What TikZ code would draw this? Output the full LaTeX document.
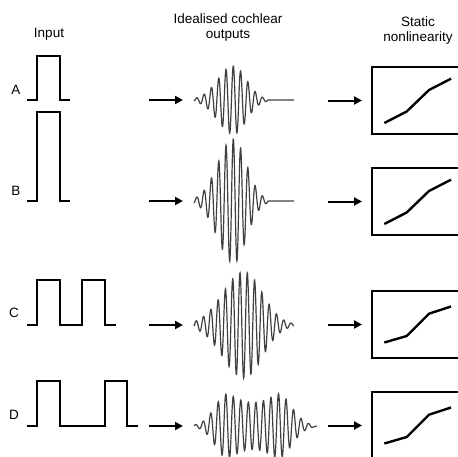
\documentclass[tikz,border=0pt]{standalone}
\usepackage{fontspec}
\setmainfont{Liberation Sans}
\usetikzlibrary{arrows.meta}
\tikzset{
  x=1pt, y=-1pt,
  lbl/.style={font=\fontsize{13.5}{15}\selectfont, inner sep=0pt},
  pulse/.style={line width=2pt},
  wave/.style={line width=1.2pt, draw=black!75},
  arr/.style={line width=2pt, -{Triangle[length=8pt,width=8pt]}},
  nlbox/.style={draw, line width=2pt, minimum width=100pt, minimum height=67pt,
                inner sep=0pt, outer sep=0pt, anchor=north west},
  nlcurve/.style={line width=2.4pt},
  declare function={
    envA(\x)=exp(-((\x-233.3)/((\x<233.3)?22:18.5))^2);
    envC(\x)=exp(-((\x-244)/((\x<244)?30:26))^2);
    envD(\x)=(\x<228) ? (32.5*exp(-((\x-228)/18)^2)) :
             ((\x<277.5) ? (32.5*(1-0.28*sin(3.6364*(\x-228)))) :
             (32.5*exp(-((\x-277.5)/19.5)^2)));
  }
}
\begin{document}
\begin{tikzpicture}
\useasboundingbox (0,0) rectangle (458,456);
\clip (0,0) rectangle (458,456);

% column titles
\node[lbl, anchor=base] (tin) at (49,37.5) {Input};
\node[lbl, anchor=base, align=center] (tout) at (228,38) {Idealised cochlear\\outputs};
\node[lbl, anchor=base, align=center] (tnl) at (418,41) {Static\\nonlinearity};

% row labels
\node[lbl] (la) at (16,89.5) {A};
\node[lbl] (lb) at (16,191) {B};
\node[lbl] (lc) at (14,313) {C};
\node[lbl] (ld) at (14,414.5) {D};

% input pulses
\draw[pulse] (27,100) -- (37,100) -- (37,56) -- (60,56) -- (60,100) -- (70,100);
\draw[pulse] (27,201) -- (37,201) -- (37,112) -- (60,112) -- (60,201) -- (70,201);
\draw[pulse] (27,325) -- (37,325) -- (37,280) -- (60,280) -- (60,325) -- (82,325)
             -- (82,280) -- (105,280) -- (105,325) -- (116,325);
\draw[pulse] (27,426) -- (37,426) -- (37,381) -- (60,381) -- (60,426) -- (105,426)
             -- (105,381) -- (127,381) -- (127,426) -- (138,426);

% first arrows
\coordinate (ia1) at (149,100);   \coordinate (ib1) at (183,100);
\coordinate (ia2) at (149,201);   \coordinate (ib2) at (183,201);
\coordinate (ia3) at (149,325);   \coordinate (ib3) at (183,325);
\coordinate (ia4) at (149,426);   \coordinate (ib4) at (183,426);
\draw[arr] (ia1) -- (ib1);
\draw[arr] (ia2) -- (ib2);
\draw[arr] (ia3) -- (ib3);
\draw[arr] (ia4) -- (ib4);

% cochlear outputs
\draw[wave] plot[domain=194:268, samples=320] (\x,{100-34*envA(\x)*cos(49.315*(\x-233.3))}) -- (294,100);
\draw[wave] plot[domain=194:268, samples=320] (\x,{201-62*envA(\x)*cos(49.315*(\x-233.3))}) -- (294,201);
\draw[wave] plot[domain=194:294, samples=420] (\x,{325-53*envC(\x)*cos(49.315*(\x-240))});
\draw[wave] plot[domain=194:312, samples=500] (\x,{426-envD(\x)*cos(47.809*(\x-233.3))}) -- (317,426);

% nonlinearity boxes
\node[nlbox] (box1) at (372,67) {};
\node[nlbox] (box2) at (372,168) {};
\node[nlbox] (box3) at (372,291) {};
\node[nlbox] (box4) at (372,392) {};

% second arrows
\coordinate (oa1) at (328,100.5);
\coordinate (oa2) at (328,201.5);
\coordinate (oa3) at (328,324.5);
\coordinate (oa4) at (328,425.5);
\draw[arr, shorten >=10pt] (oa1) -- (box1.west);
\draw[arr, shorten >=10pt] (oa2) -- (box2.west);
\draw[arr, shorten >=10pt] (oa3) -- (box3.west);
\draw[arr, shorten >=10pt] (oa4) -- (box4.west);

% curves
\draw[nlcurve] ([shift={(12.3,56)}]box1.north west) -- ([shift={(34.7,44.5)}]box1.north west)
   -- ([shift={(57,23)}]box1.north west) -- ([shift={(79,11.7)}]box1.north west);
\draw[nlcurve] ([shift={(12.3,56)}]box2.north west) -- ([shift={(34.7,44.5)}]box2.north west)
   -- ([shift={(57,23)}]box2.north west) -- ([shift={(79,11.7)}]box2.north west);
\draw[nlcurve] ([shift={(12.3,51.5)}]box3.north west) -- ([shift={(34.7,45)}]box3.north west)
   -- ([shift={(57,22.7)}]box3.north west) -- ([shift={(79,15.5)}]box3.north west);
\draw[nlcurve] ([shift={(12.3,51.5)}]box4.north west) -- ([shift={(34.7,45)}]box4.north west)
   -- ([shift={(57,22.7)}]box4.north west) -- ([shift={(79,15.5)}]box4.north west);
\end{tikzpicture}
\end{document}
